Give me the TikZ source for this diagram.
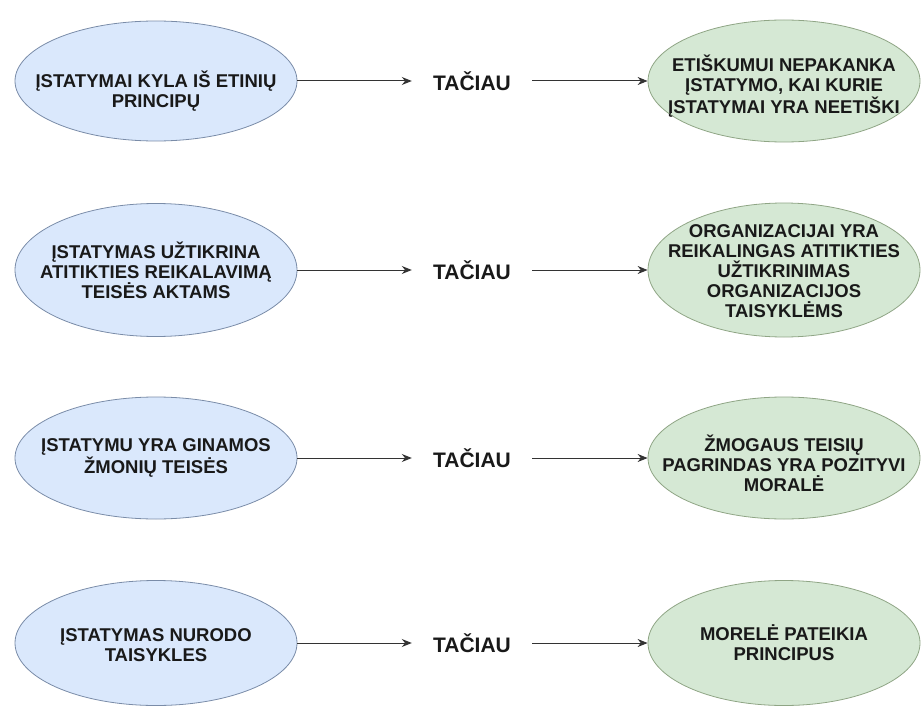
\documentclass[tikz,border=0pt]{standalone}
\usepackage{fontspec}
\setmainfont{Liberation Sans}
\usetikzlibrary{shapes.geometric,arrows.meta}
\definecolor{bluefill}{HTML}{DAE8FC}
\definecolor{bluedraw}{HTML}{7A8CA8}
\definecolor{greenfill}{HTML}{D5E8D4}
\definecolor{greendraw}{HTML}{8FA585}
\tikzset{
  ell/.style={ellipse, draw, line width=0.8pt, inner sep=0pt},
  leftell/.style={ell, fill=bluefill, draw=bluedraw, minimum width=282pt},
  rightell/.style={ell, fill=greenfill, draw=greendraw, minimum width=272pt},
  lbl/.style={align=center, inner sep=0pt, font=\fontsize{18.5}{20}\selectfont\bfseries, text=black!90},
  but/.style={font=\fontsize{21}{24}\selectfont\bfseries, text=black!90, minimum width=120pt, inner sep=0pt},
  conn/.style={draw=black!80, line width=1pt, -{Stealth[length=10pt,width=8pt]}}
}
\begin{document}
\begin{tikzpicture}[x=1pt,y=-1pt]
\useasboundingbox (0,0) rectangle (923,706);
% ellipses
\node[leftell, minimum height=120pt] (l1) at (156,81) {};
\node[rightell, minimum height=122pt] (r1) at (784,81) {};
\node[leftell, minimum height=133pt] (l2) at (156,270) {};
\node[rightell, minimum height=134pt] (r2) at (784,270) {};
\node[leftell, minimum height=122pt] (l3) at (156,458) {};
\node[rightell, minimum height=122pt] (r3) at (784,458) {};
\node[leftell, minimum height=125pt] (l4) at (156,643) {};
\node[rightell, minimum height=125pt] (r4) at (784,643) {};
% labels
\node[lbl] (l1t) at (156,91) {ĮSTATYMAI KYLA IŠ ETINIŲ\\PRINCIPŲ};
\node[lbl] (r1t) at (784,86) {ETIŠKUMUI NEPAKANKA\\ĮSTATYMO, KAI KURIE\\ĮSTATYMAI YRA NEETIŠKI};
\node[lbl] (l2t) at (156,270) {ĮSTATYMAS UŽTIKRINA\\ATITIKTIES REIKALAVIMĄ\\TEISĖS AKTAMS};
\node[lbl] (r2t) at (784,271) {ORGANIZACIJAI YRA\\REIKALINGAS ATITIKTIES\\UŽTIKRINIMAS\\ORGANIZACIJOS\\TAISYKLĖMS};
\node[lbl] (l3t) at (156,458) {ĮSTATYMU YRA GINAMOS\\ŽMONIŲ TEISĖS};
\node[lbl] (r3t) at (784,463) {ŽMOGAUS TEISIŲ\\PAGRINDAS YRA POZITYVI\\MORALĖ};
\node[lbl] (l4t) at (156,645) {ĮSTATYMAS NURODO\\TAISYKLES};
\node[lbl] (r4t) at (784,643) {MORELĖ PATEIKIA\\PRINCIPUS};
% connector middle labels
\node[but] (t1) at (472,81) {TAČIAU};
\node[but] (t2) at (472,270) {TAČIAU};
\node[but] (t3) at (472,458) {TAČIAU};
\node[but] (t4) at (472,643) {TAČIAU};
% connectors
\foreach \i in {1,2,3,4}{
  \draw[conn] (l\i.east) -- (t\i.west);
  \draw[conn] (t\i.east) -- (r\i.west);
}
\end{tikzpicture}
\end{document}
